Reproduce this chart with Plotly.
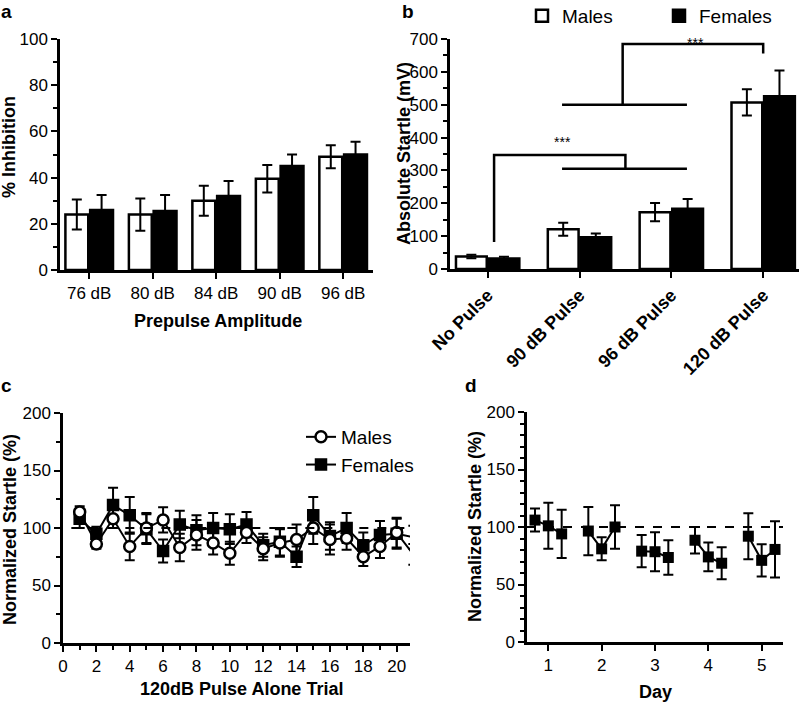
import plotly.graph_objects as go

# ---------------- data ----------------
# Panel a: % inhibition by prepulse amplitude
prepulse_levels = ["76 dB", "80 dB", "84 dB", "90 dB", "96 dB"]
ppi_males = [24, 24, 30, 39.5, 49]
ppi_males_err = [6.5, 7, 6.5, 6, 5]
ppi_females = [26, 25.5, 32, 45, 50]
ppi_females_err = [6.5, 7, 6.5, 5, 5.5]

# Panel b: absolute startle (mV)
pulse_types = ["No Pulse", "90 dB Pulse", "96 dB Pulse", "120 dB Pulse"]
startle_males = [38, 121, 173, 507]
startle_males_err = [5, 20, 28, 40]
startle_females = [32, 97, 183, 526]
startle_females_err = [5, 11, 30, 78]

# Panel c: normalized startle per 120 dB pulse-alone trial
trials = list(range(1, 22))
norm_males = [114, 86, 108, 84, 100, 107, 83, 94, 87, 78, 96, 82, 87, 90, 100, 90, 91, 75, 84, 96, 77]
norm_males_err = [5, 4, 8, 12, 13, 11, 12, 13, 10, 10, 9, 10, 12, 13, 14, 13, 10, 8, 10, 13, 9]
norm_females = [108, 95, 120, 111, 99, 80, 103, 98, 100, 99, 103, 85, 88, 75, 111, 93, 100, 85, 94, 95, 92]
norm_females_err = [8, 6, 15, 16, 13, 10, 12, 13, 13, 13, 11, 10, 12, 9, 16, 12, 13, 11, 12, 13, 10]

# Panel d: normalized startle across days (3 sessions per day)
days = [1, 2, 3, 4, 5]
session_x = [[0.75, 1.0, 1.25], [1.75, 2.0, 2.25], [2.75, 3.0, 3.25], [3.75, 4.0, 4.25], [4.75, 5.0, 5.25]]
day_values = [[106, 101, 94], [96.5, 81, 100], [79, 78.5, 73.5], [88.5, 74, 68.5], [92, 71, 80.5]]
day_errs = [[10, 20, 21], [21, 10, 19], [14, 17, 15], [11.5, 12.5, 14], [20, 14, 24.5]]

baseline = 100

# ---------------- figure ----------------
W, H = 800, 703
FONT = "Arial, Liberation Sans, sans-serif"
BLACK = "#000000"

def px_x(p):
    return p / W

def px_y(p):
    return 1 - p / H

fig = go.Figure()

err_style = dict(type="data", color=BLACK, thickness=2, width=5, visible=True)

# Panel a bars
fig.add_trace(go.Bar(x=prepulse_levels, y=ppi_males, name="Males", showlegend=False,
                     marker=dict(color="white", line=dict(color=BLACK, width=2.5)),
                     width=0.36, offset=-0.375,
                     error_y=dict(array=ppi_males_err, **err_style),
                     xaxis="x", yaxis="y"))
fig.add_trace(go.Bar(x=prepulse_levels, y=ppi_females, name="Females", showlegend=False,
                     marker=dict(color=BLACK, line=dict(color=BLACK, width=2.5)),
                     width=0.36, offset=0.015,
                     error_y=dict(array=ppi_females_err, **err_style),
                     xaxis="x", yaxis="y"))

# Panel b bars
fig.add_trace(go.Bar(x=pulse_types, y=startle_males, name="Males", legend="legend",
                     marker=dict(color="white", line=dict(color=BLACK, width=2.5)),
                     width=0.335, offset=-0.345,
                     error_y=dict(array=startle_males_err, **err_style),
                     xaxis="x2", yaxis="y2"))
fig.add_trace(go.Bar(x=pulse_types, y=startle_females, name="Females", legend="legend",
                     marker=dict(color=BLACK, line=dict(color=BLACK, width=2.5)),
                     width=0.335, offset=0.01,
                     error_y=dict(array=startle_females_err, **err_style),
                     xaxis="x2", yaxis="y2"))

# Panel c lines
fig.add_trace(go.Scatter(x=trials, y=norm_females, name="Females", legend="legend2",
                         mode="lines+markers", cliponaxis=False,
                         line=dict(color=BLACK, width=2),
                         marker=dict(symbol="square", size=11, color=BLACK, line=dict(color=BLACK, width=1.5)),
                         error_y=dict(array=norm_females_err, **err_style),
                         xaxis="x3", yaxis="y3"))
fig.add_trace(go.Scatter(x=trials, y=norm_males, name="Males", legend="legend2",
                         mode="lines+markers", cliponaxis=False,
                         line=dict(color=BLACK, width=2),
                         marker=dict(symbol="circle", size=11, color="white", line=dict(color=BLACK, width=2.5)),
                         error_y=dict(array=norm_males_err, **err_style),
                         xaxis="x3", yaxis="y3"))

# Panel d lines (one trace per day so lines do not connect across days)
for xs, ys, es in zip(session_x, day_values, day_errs):
    fig.add_trace(go.Scatter(x=xs, y=ys, mode="lines+markers", showlegend=False,
                             line=dict(color=BLACK, width=2),
                             marker=dict(symbol="square", size=11, color=BLACK),
                             error_y=dict(array=es, **err_style),
                             xaxis="x4", yaxis="y4"))

axis_common = dict(showline=True, linecolor=BLACK, linewidth=2.5, mirror=False,
                   ticks="outside", ticklen=6, tickwidth=2, tickcolor=BLACK,
                   showgrid=False, zeroline=False, automargin=False,
                   tickfont=dict(family=FONT, size=17, color=BLACK))

def minor(d):
    return dict(ticks="outside", ticklen=4, tickwidth=1.5, tickcolor=BLACK, dtick=d, showgrid=False)

fig.update_layout(
    width=W, height=H,
    margin=dict(l=0, r=0, t=0, b=0, pad=0, autoexpand=False),
    paper_bgcolor="white", plot_bgcolor="white",
    font=dict(family=FONT, color=BLACK),
    barmode="overlay",
    xaxis=dict(domain=[px_x(60), px_x(373)], anchor="y", type="category",
               range=[-0.46, 4.47], **axis_common),
    yaxis=dict(domain=[px_y(270), px_y(39)], anchor="x", range=[0, 100],
               dtick=20, minor=minor(10), **axis_common),
    xaxis2=dict(domain=[px_x(450), px_x(799)], anchor="y2", type="category",
                range=[-0.41, 3.39], tickangle=-45,
                tickmode="array", tickvals=pulse_types,
                ticktext=[f"<b>{t}</b>" for t in pulse_types],
                **{k: v for k, v in axis_common.items() if k != "tickfont"},
                tickfont=dict(family=FONT, size=18, color=BLACK)),
    yaxis2=dict(domain=[px_y(269), px_y(39)], anchor="x2", range=[0, 700],
                dtick=100, minor=minor(50), **axis_common),
    xaxis3=dict(domain=[px_x(63), px_x(410)], anchor="y3", range=[0, 20.8],
                tick0=0, dtick=2, minor=minor(1), **axis_common),
    yaxis3=dict(domain=[px_y(643), px_y(413)], anchor="x3", range=[0, 200],
                dtick=50, minor=minor(25), **axis_common),
    xaxis4=dict(domain=[px_x(527), px_x(783)], anchor="y4", range=[0.6, 5.4],
                tickmode="array", tickvals=days, **axis_common),
    yaxis4=dict(domain=[px_y(642), px_y(412)], anchor="x4", range=[0, 200],
                dtick=50, minor=minor(10), **axis_common),
    legend=dict(orientation="h", x=px_x(522), y=px_y(16), xanchor="left", yanchor="middle",
                font=dict(family=FONT, size=19, color=BLACK), bgcolor="rgba(0,0,0,0)",
                entrywidth=92, entrywidthmode="pixels"),
    legend2=dict(orientation="v", x=px_x(301), y=px_y(418), xanchor="left", yanchor="top",
                 font=dict(family=FONT, size=19, color=BLACK), bgcolor="rgba(0,0,0,0)",
                 traceorder="reversed"),
)

# Reference (100%) dashed lines
fig.add_shape(type="line", xref="x3", yref="y3", x0=0.5, x1=21, y0=baseline, y1=baseline,
              line=dict(color=BLACK, width=2, dash="dash"))
fig.add_shape(type="line", xref="x4", yref="y4", x0=0.6, x1=5.4, y0=baseline, y1=baseline,
              line=dict(color=BLACK, width=2, dash="dash"))

# Significance brackets in panel b (category index units, mV)
brackets = [
    [(1.47, 500), (1.47, 685), (3.0, 685), (3.0, 656)],
    [(0.81, 500), (2.17, 500)],
    [(0.07, 82), (0.07, 347), (1.5, 347), (1.5, 305)],
    [(0.81, 305), (2.17, 305)],
]
for pts in brackets:
    path = "M " + " L ".join(f"{x},{y}" for x, y in pts)
    fig.add_shape(type="path", xref="x2", yref="y2", path=path,
                  line=dict(color=BLACK, width=2.5))
fig.add_annotation(x=2.26, y=px_y(33), xref="x2", yref="paper", text="***", showarrow=False,
                   font=dict(family=FONT, size=14, color=BLACK))
fig.add_annotation(x=0.81, y=385, xref="x2", yref="y2", text="***", showarrow=False,
                   font=dict(family=FONT, size=14, color=BLACK))

# Axis titles and panel letters
titles = [
    ("<b>% Inhibition</b>", 9, 147, -90),
    ("<b>Prepulse Amplitude</b>", 218, 321, 0),
    ("<b>Absolute Startle (mV)</b>", 404, 154, -90),
    ("<b>Normalized Startle (%)</b>", 10, 530, -90),
    ("<b>120dB Pulse Alone Trial</b>", 241, 689, 0),
    ("<b>Normalized Startle (%)</b>", 475, 527, -90),
    ("<b>Day</b>", 655, 692, 0),
]
for text, x, y, ang in titles:
    fig.add_annotation(x=px_x(x), y=px_y(y), xref="paper", yref="paper", text=text,
                       showarrow=False, textangle=ang, xanchor="center", yanchor="middle",
                       font=dict(family=FONT, size=18, color=BLACK))

for text, x, y in [("a", 6, 12), ("b", 408, 12), ("c", 6, 385), ("d", 471, 385)]:
    fig.add_annotation(x=px_x(x), y=px_y(y), xref="paper", yref="paper", text=f"<b>{text}</b>",
                       showarrow=False, xanchor="center", yanchor="middle",
                       font=dict(family=FONT, size=19, color=BLACK))

# Remove the page's default body margin so the 800x703 figure fills the window.
fig.write_html("out.html", config={"displayModeBar": False},
               post_script="document.body.style.margin='0';")
